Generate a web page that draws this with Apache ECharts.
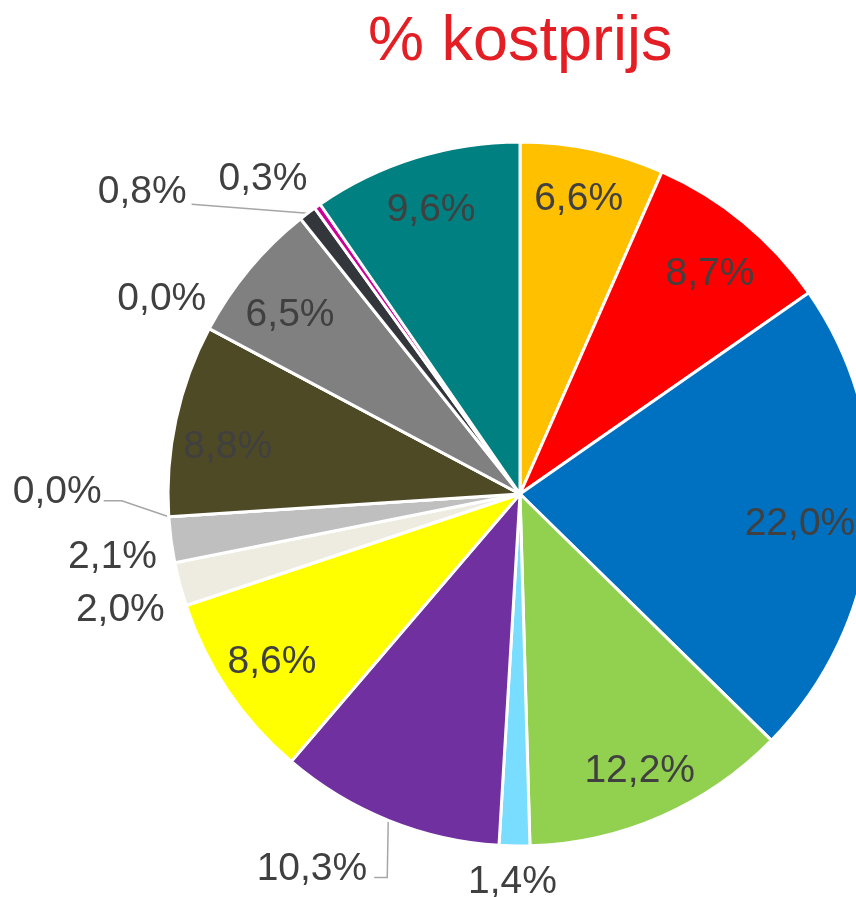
<!DOCTYPE html>
<html lang="nl">
<head>
<meta charset="utf-8">
<title>% kostprijs</title>
<script src="https://cdn.jsdelivr.net/npm/echarts@6/dist/echarts.min.js"></script>
<style>
  html, body { margin: 0; padding: 0; background: #fff; overflow: hidden; }
  #main { width: 856px; height: 897px; }
</style>
</head>
<body>
<div id="main"></div>
<script>
// kostenposten, met de klok mee vanaf 12 uur
var posten = ['post 1', 'post 2', 'post 3', 'post 4', 'post 5', 'post 6', 'post 7', 'post 8',
              'post 9', 'post 10', 'post 11', 'post 12', 'post 13', 'post 14', 'post 15', 'post 16'];
var percentages = [6.6, 8.7, 22.0, 12.2, 1.4, 10.3, 8.6, 2.0, 2.1, 0.0, 8.8, 0.0, 6.5, 0.8, 0.3, 9.6];
var kleuren = ['#FFC000', '#FF0000', '#0070C0', '#92D050', '#78DDFF', '#7030A0', '#FFFF00', '#EEECE1',
               '#BFBFBF', '#A5A5A5', '#4F4A26', '#C0504D', '#808080', '#33363B', '#CC0099', '#008080'];

var CX = 520, CY = 494, R = 352;
var font = 'Liberation Sans, Arial, sans-serif';
var tekstKleur = '#404040';

// labels die buiten de taart staan: plaats t.o.v. de rand van het stuk
var buiten = {
  4:  { at: [-2, 36], align: 'center' },
  5:  { at: [-21, 49], line: [[-1, 57], [-14, 57]] },
  7:  { at: [-15, 26] },
  8:  { at: [-14, 17] },
  9:  { at: [-67, -24], line: [[-47, -16], [-65, -16]] },
  11: { at: [-3, -29] },
  13: { at: [-121, -21], line: [[-116, -9]] },
  14: { at: [-10, -27] }
};
// kleine correcties voor de labels binnenin
var binnen = {
  0: [-3, -2],
  1: [0, 11],
  2: [-18, 5],
  3: [0, 3],
  6: [0, 1],
  10: [0, 16],
  12: [0, 12],
  15: [0, 2]
};

function fmt(v) {
  return v.toFixed(1).replace('.', ',') + '%';
}

var totaal = percentages.reduce(function (a, b) { return a + b; }, 0);
var randpunt = [];
var cum = 0;
percentages.forEach(function (v) {
  var a = 2 * Math.PI * (cum + v / 2) / totaal;
  randpunt.push([CX + R * Math.sin(a), CY - R * Math.cos(a)]);
  cum += v;
});

var dataMain = percentages.map(function (v, i) {
  var b = buiten[i];
  return {
    name: posten[i],
    value: v,
    itemStyle: { color: kleuren[i] },
    label: { show: !!b },
    labelLine: { show: !!(b && b.line) }
  };
});

var dataLabels = percentages.map(function (v, i) {
  return {
    name: posten[i],
    value: v,
    label: { show: !buiten[i] }
  };
});

var chart = echarts.init(document.getElementById('main'));
chart.setOption({
  animation: false,
  title: {
    text: '% kostprijs',
    left: 363,
    top: 6,
    textStyle: { color: '#E31E24', fontSize: 63, fontWeight: 'normal', fontFamily: font }
  },
  series: [{
    type: 'pie',
    center: [CX, CY],
    radius: [0, R],
    startAngle: 90,
    clockwise: true,
    avoidLabelOverlap: false,
    silent: true,
    itemStyle: { borderColor: '#fff', borderWidth: 3 },
    label: {
      position: 'outside',
      color: tekstKleur,
      fontSize: 39,
      fontFamily: font,
      formatter: function (p) { return fmt(p.value); }
    },
    labelLine: { length: 10, length2: 0, lineStyle: { color: '#A6A6A6', width: 1.5 } },
    labelLayout: function (p) {
      var b = buiten[p.dataIndex];
      if (!b) return {};
      var e = randpunt[p.dataIndex];
      var out = {
        x: e[0] + b.at[0],
        y: e[1] + b.at[1],
        align: b.align || 'right',
        verticalAlign: 'middle'
      };
      if (b.line) {
        out.labelLinePoints = [e].concat(b.line.map(function (q) {
          return [e[0] + q[0], e[1] + q[1]];
        }));
      }
      return out;
    },
    data: dataMain
  }, {
    // alleen de labels binnenin, op ongeveer 85% van de straal
    type: 'pie',
    center: [CX, CY],
    radius: [286, 306],
    startAngle: 90,
    clockwise: true,
    silent: true,
    itemStyle: { color: 'rgba(0,0,0,0)', borderWidth: 0 },
    label: {
      position: 'inside',
      color: tekstKleur,
      fontSize: 39,
      fontFamily: font,
      formatter: function (p) { return fmt(p.value); }
    },
    labelLine: { show: false },
    labelLayout: function (p) {
      var d = binnen[p.dataIndex];
      if (!d) return {};
      var r = p.labelRect;
      return {
        x: r.x + r.width / 2 + d[0],
        y: r.y + r.height / 2 + d[1],
        align: 'center',
        verticalAlign: 'middle'
      };
    },
    data: dataLabels
  }]
});
</script>
</body>
</html>
